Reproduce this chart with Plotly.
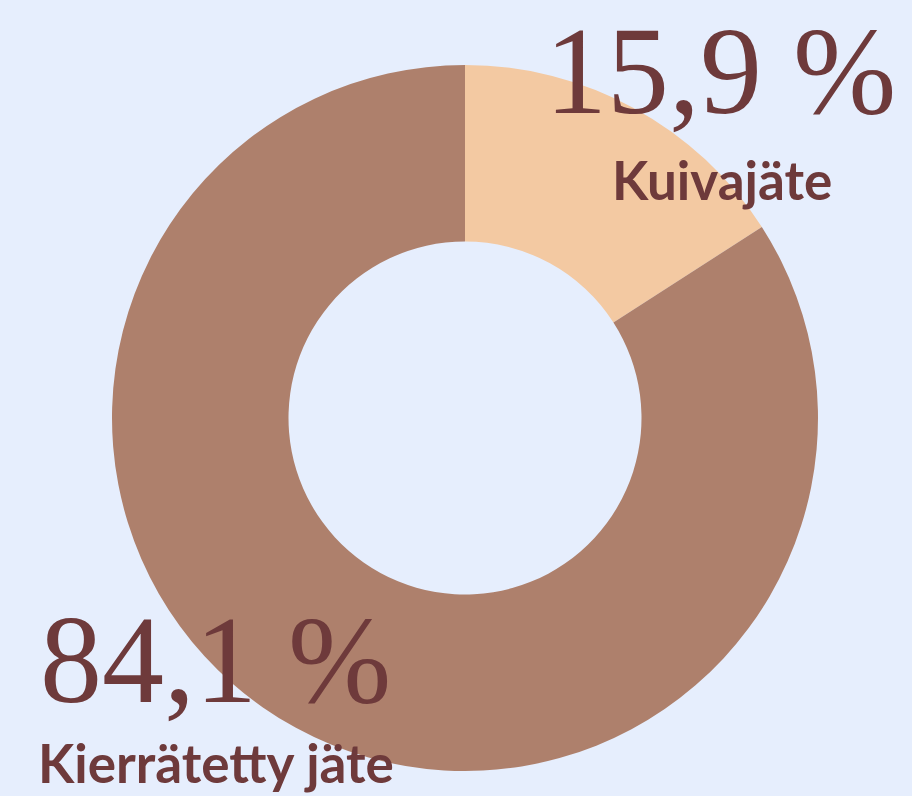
import plotly.graph_objects as go

labels = ["Kuivajäte", "Kierrätetty jäte"]
values = [15.9, 84.1]
value_texts = ["15,9 %", "84,1 %"]
colors = ["#F3C9A2", "#AE806C"]

W, H = 912, 796
bg = "#E6EEFD"
txt = "#6E3A3B"

fig = go.Figure()
fig.add_trace(go.Pie(
    labels=labels, values=values, hole=0.5, sort=False, direction="clockwise",
    rotation=0, marker=dict(colors=colors, line=dict(width=0)),
    textinfo="none", hoverinfo="label+percent", showlegend=False,
    domain=dict(x=[112 / W, 818 / W], y=[25 / H, 731 / H]),
))

serif = "Liberation Serif, DejaVu Serif, serif"
sans = "Lato, Open Sans, sans-serif"

# Kuivajäte (top right)
fig.add_annotation(x=720 / W, y=1 - 72 / H, xref="paper", yref="paper",
                   text=value_texts[0], showarrow=False,
                   font=dict(family=serif, size=124, color=txt),
                   xanchor="center", yanchor="middle")
fig.add_annotation(x=722 / W, y=1 - 180 / H, xref="paper", yref="paper",
                   text="<b>" + labels[0] + "</b>", showarrow=False,
                   font=dict(family=sans, size=53, color=txt),
                   xanchor="center", yanchor="middle")
# Kierrätetty jäte (bottom left)
fig.add_annotation(x=38 / W, y=1 - 660 / H, xref="paper", yref="paper",
                   text=value_texts[1], showarrow=False,
                   font=dict(family=serif, size=124, color=txt),
                   xanchor="left", yanchor="middle")
fig.add_annotation(x=36 / W, y=1 - 762 / H, xref="paper", yref="paper",
                   text="<b>" + labels[1] + "</b>", showarrow=False,
                   font=dict(family=sans, size=53, color=txt),
                   xanchor="left", yanchor="middle")

fig.update_layout(
    width=W, height=H, margin=dict(l=0, r=0, t=0, b=0),
    paper_bgcolor=bg, plot_bgcolor=bg,
)
fig.write_html("out.html", config={"displayModeBar": False},
               post_script="document.body.style.margin='0';document.body.style.background='%s';" % bg)
